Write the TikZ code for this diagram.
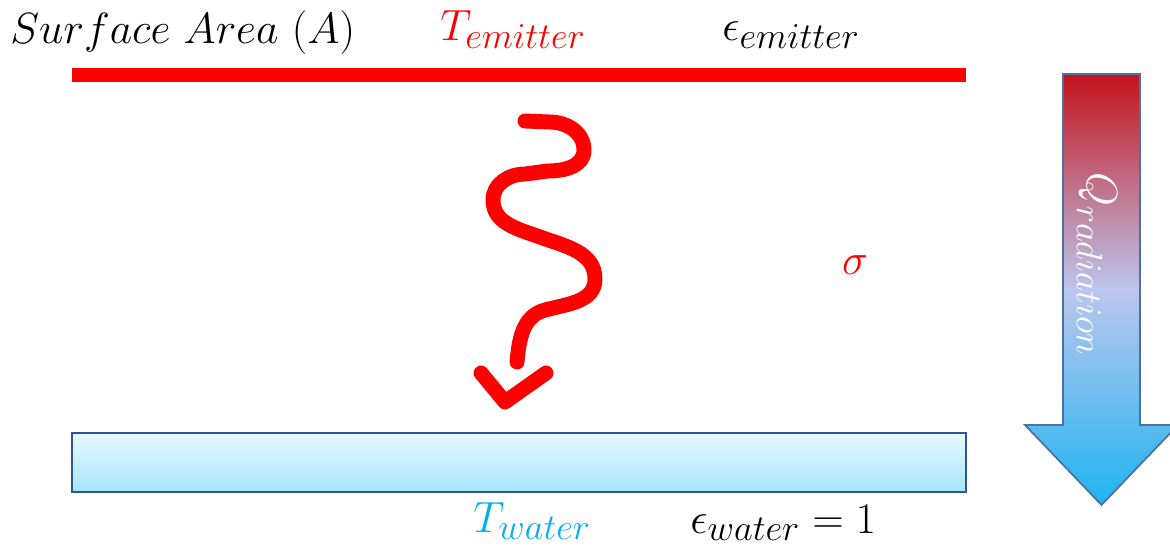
\documentclass[tikz,border=0pt]{standalone}
\usepackage{amsmath,amssymb}
\usepackage{xcolor}
\usepackage{tikz}
\usetikzlibrary{positioning}

\DeclareMathSizes{25}{25}{20}{16}

\definecolor{hotred}{HTML}{FF0000}
\definecolor{coldcyan}{HTML}{00B0F0}
\definecolor{edgeblue}{HTML}{2F5597}
\definecolor{waterhi}{HTML}{E6F9FF}
\definecolor{waterlo}{HTML}{A6E5FC}
\definecolor{fluxred}{HTML}{C4141C}
\definecolor{fluxmid}{HTML}{BCC6EE}
\definecolor{fluxblue}{HTML}{1EB4F0}

\begin{document}
\begin{tikzpicture}[x=0.02cm, y=-0.02cm,
    every node/.style={font=\fontsize{25}{30}\selectfont, inner sep=0pt},
    lbl/.style={anchor=base west},
    hotbar/.style={draw=hotred, line width=8pt},
    wave/.style={draw=hotred, line width=8.5pt, line cap=round, line join=round},
    waterbox/.style={draw=edgeblue, line width=1.5pt, top color=waterhi, bottom color=waterlo},
    fluxarrow/.style={draw=edgeblue!85, line width=1pt, top color=fluxred, bottom color=fluxblue, middle color=fluxmid}]
    \useasboundingbox (0,0) rectangle (1170,552);
    \clip (0,0) rectangle (1170,552);

    % labels
    \node[lbl]                  (area)  at (10,43)  {$Surface\ Area\ (A)$};
    \node[lbl, text=hotred]     (temit) at (440,40) {$T_{emitter}$};
    \node[lbl]                  (eemit) at (722,40) {$\epsilon_{emitter}$};
    \node[text=hotred]          (sigma) at (855,265) {$\sigma$};
    \node[lbl, text=coldcyan]   (twat)  at (473,532) {$T_{water}$};
    \node[lbl]                  (ewat)  at (690,533) {$\epsilon_{water} = 1$};

    % emitter and water surfaces
    \coordinate (emL) at (72,75);
    \coordinate (emR) at (966,75);
    \draw[hotbar] (emL) -- (emR);
    \path[waterbox] (72,433) rectangle (966,492);

    % radiated wave
    \draw[wave] (525,121) -- (550,122) to[out=0,in=90] (584,150) to[out=-90,in=0] (548,171)
        -- (525,174) to[out=180,in=90] (493,200) to[out=-90,in=160] (540,237)
        to[out=-20,in=90] (595,279) to[out=-90,in=15] (545,310) to[out=195,in=85] (517,362);
    \draw[wave] (481,373) -- (505,402) -- (546,373);

    % heat flow arrow
    \path[fluxarrow] (1063,74) -- (1140,74) -- (1140,425) -- (1178,425) -- (1101.5,505)
        -- (1025,425) -- (1063,425) -- cycle;
    \node[rotate=-90, text=white] (qrad) at (1097,264) {$Q_{radiation}$};
\end{tikzpicture}
\end{document}
